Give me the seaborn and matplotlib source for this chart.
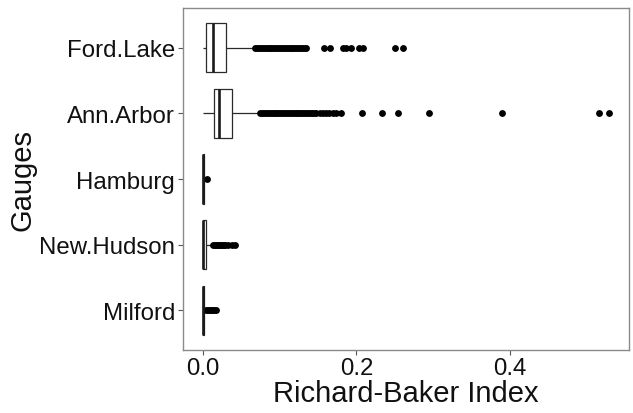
import numpy as np
import pandas as pd
import matplotlib
matplotlib.use("Agg")
import matplotlib.pyplot as plt
import seaborn as sns

# ---- data ----
gauges = ["Ford.Lake", "Ann.Arbor", "Hamburg", "New.Hudson", "Milford"]
whisk_lo = [0.0, 0.0, 0.0, 0.0, 0.0]
q1 = [0.0044, 0.0144, 0.0, 0.0, 0.0]
median = [0.0130, 0.0206, 0.0005, 0.0004, 0.0005]
q3 = [0.0298, 0.0380, 0.0012, 0.0045, 0.0012]
whisk_hi = [0.064, 0.071, 0.0025, 0.0100, 0.0025]

out_ford = [0.068, 0.0705, 0.073, 0.0755, 0.078, 0.0805, 0.083, 0.0855,
            0.088, 0.0905, 0.093, 0.0955, 0.098, 0.1005, 0.103, 0.1055,
            0.108, 0.1105, 0.113, 0.1155, 0.118, 0.1205, 0.123, 0.1255,
            0.128, 0.1305, 0.133, 0.135,
            0.158, 0.166, 0.182, 0.187, 0.193, 0.204, 0.209, 0.250, 0.261]
out_ann = [0.0745, 0.077, 0.0795, 0.082, 0.0845, 0.087, 0.0895, 0.092,
           0.0945, 0.097, 0.0995, 0.102, 0.1045, 0.107, 0.1095, 0.112,
           0.1145, 0.117, 0.1195, 0.122, 0.1245, 0.127, 0.1295, 0.132,
           0.1345, 0.137, 0.1395, 0.142, 0.1445, 0.148,
           0.1525, 0.1565, 0.160, 0.164, 0.169, 0.174, 0.1795,
           0.207, 0.233, 0.255, 0.295, 0.390, 0.517, 0.529]
out_hamburg = [0.0050]
out_newhudson = [0.011, 0.013, 0.015, 0.017, 0.019, 0.021, 0.023, 0.025,
                 0.027, 0.029, 0.033, 0.038, 0.042]
out_milford = [0.0045, 0.0065, 0.0085, 0.0105, 0.0125, 0.0140, 0.0166]
outliers = [out_ford, out_ann, out_hamburg, out_newhudson, out_milford]


def sample_from_stats(lo, a, m_, b, hi, outs):
    """Build a sample whose quartiles / whiskers match the read summary."""
    k = len(outs)
    m = k + 2
    vals = ([lo] * m + [a] * m + [m_] * m + [b] * (m + 1 - (k + 1))
            + [hi] + list(outs))
    return vals


rows = []
for i, g in enumerate(gauges):
    vals = sample_from_stats(whisk_lo[i], q1[i], median[i], q3[i],
                             whisk_hi[i], outliers[i])
    rows += [(g, v) for v in vals]
df = pd.DataFrame(rows, columns=["Gauges", "Richard-Baker Index"])

# ---- plotting ----
sns.set_theme(style="white")
plt.rcParams["font.family"] = ["Liberation Sans", "DejaVu Sans"]

fig = plt.figure(figsize=(6.33, 4.14), dpi=100)
ax = fig.add_axes([0.2886, 0.1529, 0.7055, 0.8246])

sns.boxplot(data=df, x="Richard-Baker Index", y="Gauges", order=gauges,
            orient="h", width=0.75, color="white", linecolor="#2a2a2a",
            linewidth=0.9, showcaps=False, whis=1.5,
            flierprops=dict(marker="o", markerfacecolor="black",
                            markeredgecolor="black", markersize=3.9),
            medianprops=dict(color="#1a1a1a", linewidth=1.9),
            ax=ax)

ax.set_xlim(-0.0265, 0.556)
ax.set_ylim(4.6, -0.6)
ax.set_xticks([0.0, 0.2, 0.4])
ax.set_xticklabels(["0.0", "0.2", "0.4"])

for sp in ax.spines.values():
    sp.set_color("#8a8a8a")
    sp.set_linewidth(1.0)

ax.tick_params(axis="both", which="major", length=3.5, width=0.8,
               color="#555555", labelsize=17.3, labelcolor="#111111",
               left=True, bottom=True, pad=2)
ax.set_xlabel("Richard-Baker Index", fontsize=21, color="#111111",
              labelpad=0)
ax.set_ylabel("Gauges", fontsize=21, color="#111111", labelpad=2)

fig.savefig("out.png", dpi=100, facecolor="white")
